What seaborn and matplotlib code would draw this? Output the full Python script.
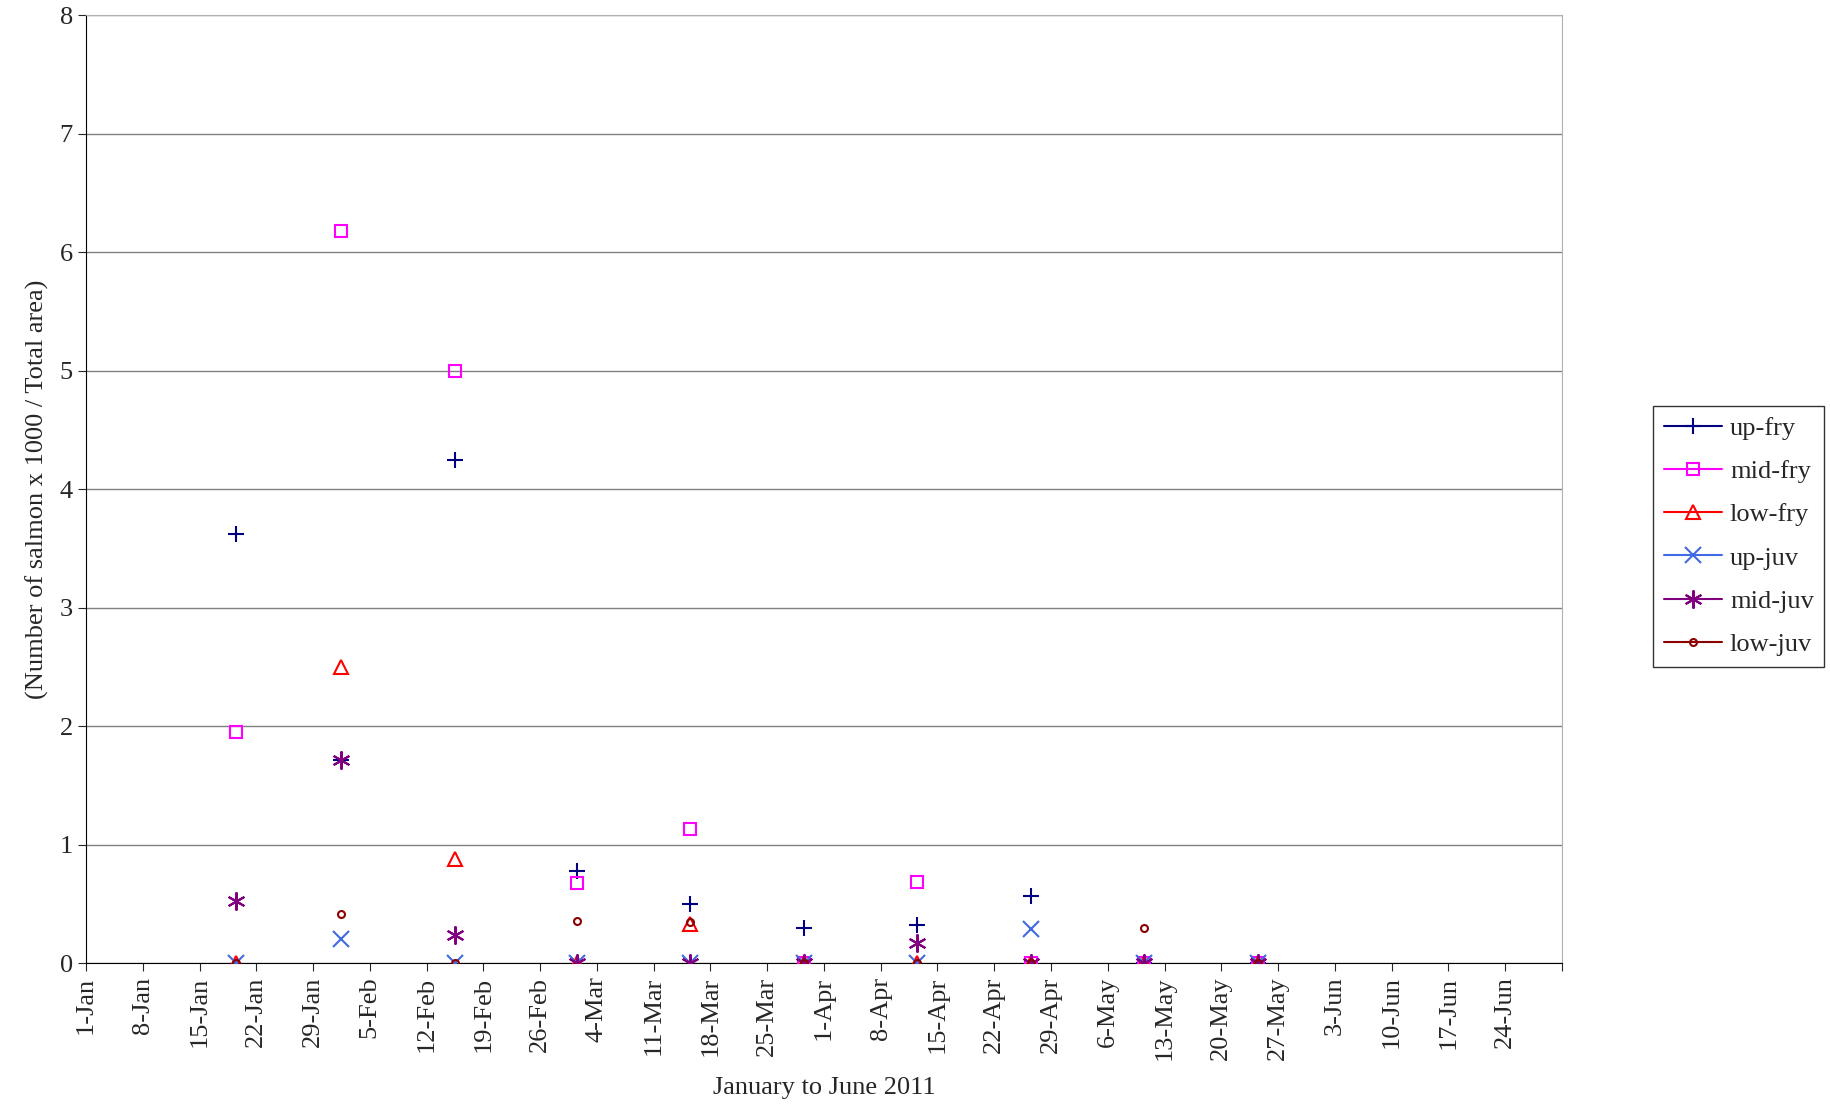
import numpy as np
import pandas as pd
import matplotlib
matplotlib.use('Agg')
import matplotlib.pyplot as plt
from matplotlib.lines import Line2D
import seaborn as sns

sns.set_style('white')
plt.rcParams['font.family'] = ['Liberation Serif', 'DejaVu Serif']

dates = pd.to_datetime(['2011-01-19 12:00', '2011-02-01 12:00', '2011-02-15 12:00', '2011-03-02 12:00',
                        '2011-03-16 12:00', '2011-03-30 12:00', '2011-04-13 12:00', '2011-04-27 12:00',
                        '2011-05-11 12:00', '2011-05-25 12:00'])
up_fry = [3.62, 1.72, 4.25, 0.78, 0.50, 0.30, 0.32, 0.57, 0.0, 0.0]
mid_fry = [1.95, 6.18, 5.00, 0.68, 1.13, 0.0, 0.69, 0.0, 0.0, 0.0]
low_fry = [0.0, 2.50, 0.88, 0.0, 0.33, 0.0, 0.0, 0.0, 0.0, 0.0]
up_juv = [0.0, 0.21, 0.0, 0.0, 0.0, 0.0, 0.0, 0.29, 0.0, 0.0]
mid_juv = [0.53, 1.72, 0.24, 0.0, 0.0, 0.0, 0.17, 0.0, 0.0, 0.0]
low_juv = [0.0, 0.42, 0.0, 0.36, 0.35, 0.0, 0.0, 0.0, 0.30, 0.0]

tick_labels = ['1-Jan', '8-Jan', '15-Jan', '22-Jan', '29-Jan', '5-Feb', '12-Feb', '19-Feb',
               '26-Feb', '4-Mar', '11-Mar', '18-Mar', '25-Mar', '1-Apr', '8-Apr', '15-Apr',
               '22-Apr', '29-Apr', '6-May', '13-May', '20-May', '27-May', '3-Jun', '10-Jun',
               '17-Jun', '24-Jun']

series = [
    ('up-fry', up_fry, 'navy', '+', 12, True),
    ('mid-fry', mid_fry, 'magenta', 's', 9, False),
    ('low-fry', low_fry, 'red', '^', 10, False),
    ('up-juv', up_juv, 'royalblue', 'x', 11, True),
    ('mid-juv', mid_juv, 'purple', (6, 2, 0), 13, True),
    ('low-juv', low_juv, 'darkred', 'o', 5, False),
]

fig = plt.figure(figsize=(18.31, 11.17), dpi=100)
ax = fig.add_axes([0.047, 0.1375, 0.806, 0.849])

handles = []
for name, vals, col, mk, ms, filled in series:
    df = pd.DataFrame({'date': dates, 'value': vals})
    if filled:
        ax.plot(df['date'], df['value'], linestyle='none', marker=mk, ms=ms,
                color=col, mew=1.5, zorder=3)
    else:
        ax.plot(df['date'], df['value'], linestyle='none', marker=mk, ms=ms,
                mfc='none', mec=col, mew=1.5, zorder=3)
    handles.append(Line2D([0], [0], color=col, marker=mk, ms=ms,
                          mfc=col if filled else 'none', mec=col, mew=1.5,
                          lw=1.5, label=name))

ax.set_ylim(0, 8)
ax.set_yticks(range(9))
start = pd.Timestamp('2011-01-01')
ax.set_xlim(start, start + pd.Timedelta(days=182))
ticks = [start + pd.Timedelta(days=7 * i) for i in range(len(tick_labels) + 1)]
ax.set_xticks(ticks)
ax.set_xticklabels(tick_labels + [''], rotation=90, fontsize=19)
ax.tick_params(axis='y', labelsize=19)
ax.tick_params(axis='both', direction='out', length=6, left=True, bottom=True)
ax.yaxis.grid(True, color='#808080', lw=1)
for s in ['top', 'right']:
    ax.spines[s].set_color('#b0b0b0')
for s in ['left', 'bottom']:
    ax.spines[s].set_color('black')
ax.set_xlabel('January to June 2011', fontsize=19, labelpad=12)
ax.set_ylabel('(Number of salmon x 1000 / Total area)', fontsize=19, labelpad=8)

fig.legend(handles=handles, loc='center left', bbox_to_anchor=(0.903, 0.52),
           fontsize=19, frameon=True, fancybox=False, edgecolor='black',
           handlelength=2.2, borderpad=0.4, labelspacing=0.75, handletextpad=0.3,
           borderaxespad=0)

fig.savefig('out.png', dpi=100)
